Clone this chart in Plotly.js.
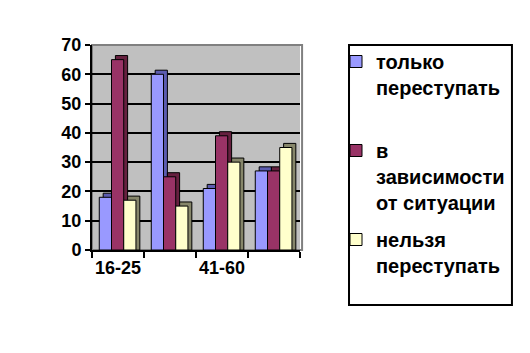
<!DOCTYPE html>
<html>
<head>
<meta charset="utf-8">
<script src="https://cdn.plot.ly/plotly-3.0.1.min.js"></script>
<style>html,body{margin:0;padding:0;background:#fff;}#chart{width:530px;height:353px;}</style>
</head>
<body>
<div id="chart"></div>
<script>
// ---- data ----
const categories = ["16-25", "26-40", "41-60", "61+"];
const tickLabels = ["16-25", "", "41-60", ""];
const seriesNames = ["только<br>переступать<br>&nbsp;", "в<br>зависимости<br>от ситуации", "нельзя<br>переступать<br>&nbsp;"];
const onlyStep = [18, 60, 21, 27];      // только переступать
const depends = [65, 25, 39, 27];       // в зависимости от ситуации
const never = [17, 15, 30, 35];         // нельзя переступать

// ---- styling ----
const seriesValues = [onlyStep, depends, never];
const frontColors = ["#9999ff", "#993366", "#ffffcc"];
const sideColors = ["#5c5cb0", "#66203f", "#86866a"];
const barW = 0.235;
const offsets = [-0.36, -0.125, 0.11];
const depthX = 0.075;
const depthY = 1.4;

const traces = [];
seriesValues.forEach((vals, i) => {
  traces.push({
    type: "bar", x: categories, y: vals.map(v => v + depthY),
    offset: offsets[i] + depthX, width: barW,
    marker: {color: sideColors[i], line: {color: "#000", width: 1}},
    showlegend: false, hoverinfo: "skip"
  });
  traces.push({
    type: "bar", x: categories, y: vals, name: seriesNames[i],
    legendgroup: "g" + i,
    offset: offsets[i], width: barW,
    marker: {color: frontColors[i], line: {color: "#000", width: 1}}
  });
});

const font = {family: "Liberation Sans, Arial, sans-serif", color: "#000", weight: "bold"};

const layout = {
  width: 530, height: 353,
  margin: {l: 92, r: 230, t: 45, b: 103},
  paper_bgcolor: "#fff",
  plot_bgcolor: "#c0c0c0",
  barmode: "overlay",
  font: Object.assign({size: 18}, font),
  xaxis: {
    type: "category",
    tickmode: "array", tickvals: categories, ticktext: tickLabels,
    tickson: "boundaries", ticks: "outside", ticklen: 6, tickwidth: 2, tickcolor: "#000",
    tickangle: 0,
    showline: true, linecolor: "#000", linewidth: 2,
    showgrid: false, fixedrange: true,
    tickfont: Object.assign({size: 18}, font)
  },
  yaxis: {
    range: [0, 70], dtick: 10,
    ticks: "outside", ticklen: 5, tickwidth: 2, tickcolor: "#000",
    showline: true, linecolor: "#000", linewidth: 2,
    showgrid: true, gridcolor: "#000", gridwidth: 2, zeroline: false,
    tickfont: Object.assign({size: 18}, font)
  },
  legend: {
    xref: "container", yref: "container",
    x: 336 / 530, y: 1 - 42 / 353, xanchor: "left", yanchor: "top",
    bgcolor: "rgba(0,0,0,0)", borderwidth: 0,
    valign: "top", tracegroupgap: 8, maxheight: 330,
    font: Object.assign({size: 20}, font)
  },
  shapes: [
    {type: "rect", xref: "paper", yref: "paper", x0: 0, x1: 1.01, y0: 0, y1: 1,
     line: {color: "#808080", width: 2}, layer: "below"},
    {type: "rect", xref: "paper", yref: "paper", x0: 1.2356, x1: 2.019, y0: -0.268, y1: 1.0,
     line: {color: "#000", width: 2}, fillcolor: "rgba(0,0,0,0)"}
  ],
  showlegend: true
};

Plotly.newPlot("chart", traces, layout, {displayModeBar: false, staticPlot: true});
</script>
</body>
</html>
